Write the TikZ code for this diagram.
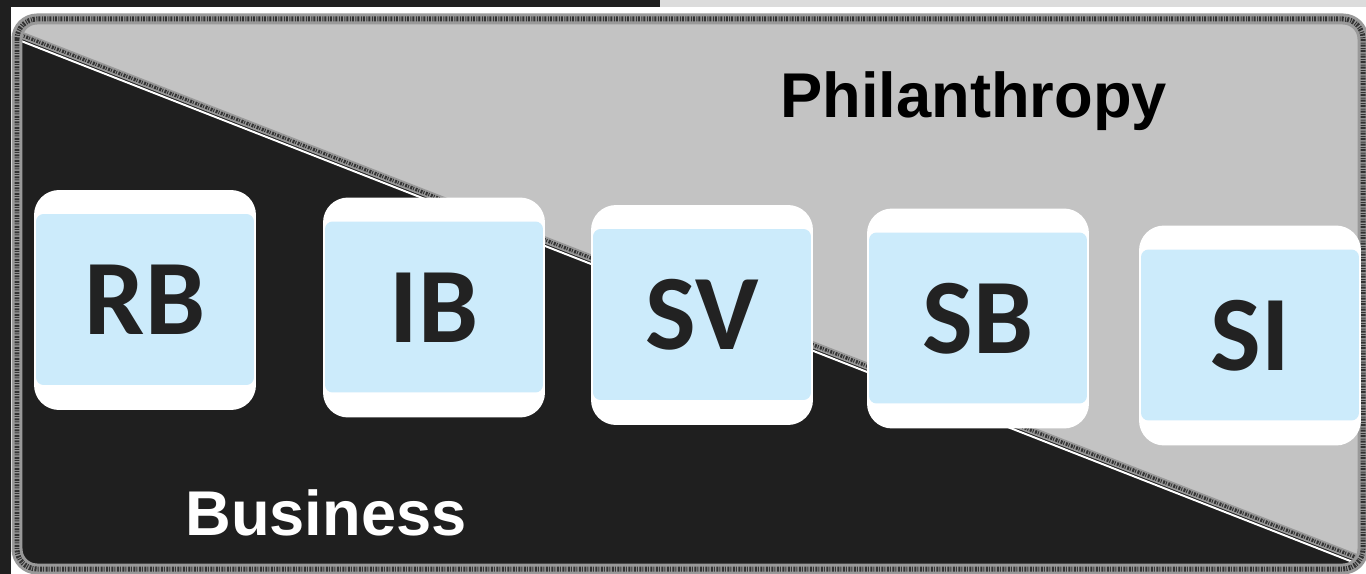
\documentclass[tikz,border=0pt]{standalone}
\usepackage{fontspec}
\setmainfont{Liberation Sans}
\newfontfamily\tilefont{Carlito}
\definecolor{dark}{HTML}{1F1F1F}
\definecolor{sky}{HTML}{CCEBFB}
\definecolor{philgray}{HTML}{C3C3C3}
\definecolor{topgray}{HTML}{DCDCDC}
\definecolor{ink}{HTML}{222222}
\begin{document}
\begin{tikzpicture}[x=0.02cm,y=-0.02cm]
\tikzset{
    frame/.style={line width = 0.22cm, color=black!40},
    frameD/.style={line width = 0.1cm, color=black!80, dash pattern=on 0.04cm off 0.02cm on 0.02cm off 0.03cm},
    edge/.style={line width = 0.04cm, color=white},
    tile/.style={rounded corners=0.5cm, fill=white, inner sep=0pt,
        minimum width=4.44cm, minimum height=4.4cm, text=ink,
        font=\tilefont\bfseries\fontsize{61}{61}\selectfont,
        path picture={\fill[sky, rounded corners=0.15cm]
            ([shift={(0.04cm,0.5cm)}]path picture bounding box.south west) rectangle
            ([shift={(-0.04cm,-0.48cm)}]path picture bounding box.north east);}},
    sector/.style={font=\bfseries\fontsize{36}{36}\selectfont, inner sep=0pt}}
\def\rframe{0.4cm}

\useasboundingbox (0,0) rectangle (1366,574);

% page behind the panel
\fill[white] (0,0) rectangle (1366,574);
\fill[dark] (0,0) rectangle (660,7);
\fill[topgray] (660,0) rectangle (1366,7);
\fill[dark] (0,0) rectangle (11,574);

\path (17,19) coordinate (P1);
\path (1363,569) coordinate (P2);
\path (16,33) coordinate (D1);
\path (1363,560) coordinate (D2);

% two halves
\begin{scope}
\clip[rounded corners=\rframe] (P1) rectangle (P2);
\fill[philgray] (P1) rectangle (P2);
\fill[dark] (0,27) -- (1366,561) -- (1366,580) -- (0,580) -- cycle;
\draw[edge] ([yshift=-0.12cm]D1) -- ([yshift=-0.12cm]D2);
\draw[frame, line width=0.14cm] (D1) -- (D2);
\draw[frameD, line width=0.07cm] (D1) -- (D2);
\end{scope}

\draw[frame, rounded corners=\rframe] (P1) rectangle (P2);
\draw[frameD, rounded corners=\rframe] (P1) rectangle (P2);

\node[sector, anchor=base] (phil) at (973.5,118) {Philanthropy};
\node[sector, anchor=base, text=white] (bus) at (326,535) {Business};

\node[tile] (rb) at (145,300) {RB};
\node[tile] (ib) at (434,307.5) {IB};
\node[tile] (sv) at (702,315) {SV};
\node[tile] (sb) at (978,318.5) {SB};
\node[tile] (si) at (1250,335.5) {SI};

\end{tikzpicture}
\end{document}
